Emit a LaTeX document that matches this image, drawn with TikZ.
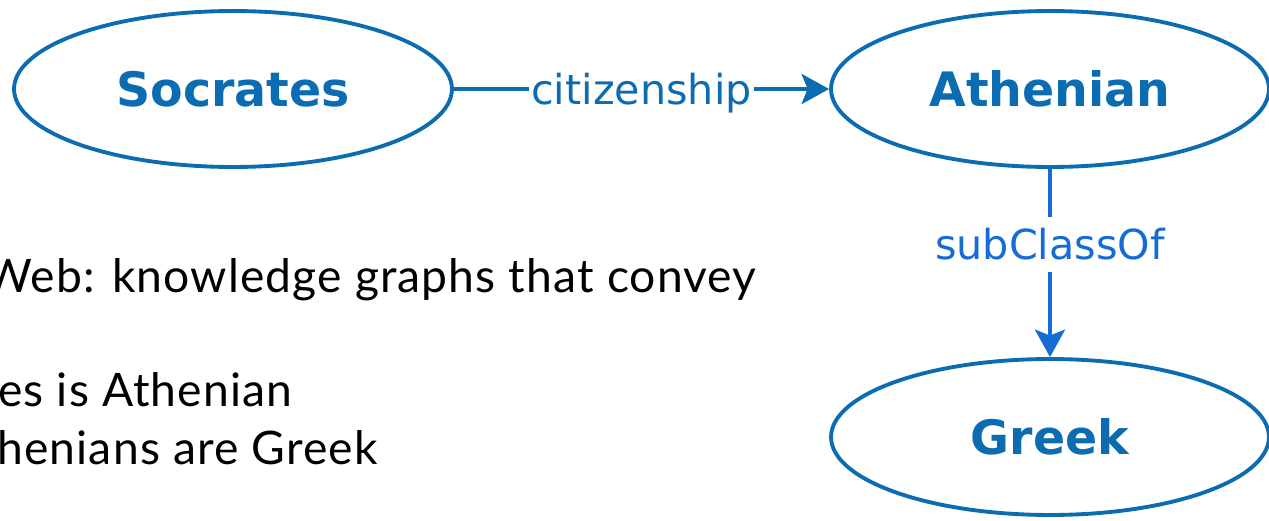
\documentclass[tikz,border=0pt]{standalone}
\usepackage{fontspec}
\setmainfont{Lato}[LetterSpace=2.5]
\newfontfamily\djv{DejaVu Sans}
\usetikzlibrary{shapes.geometric}
\usetikzlibrary{arrows.meta}
\definecolor{nodeblue}{RGB}{12,108,178}
\definecolor{subblue}{RGB}{20,108,212}

\begin{document}
\begin{tikzpicture}[x=0.02cm, y=-0.02cm,
        concept/.style={ellipse, draw=nodeblue, line width=2.2pt, text=nodeblue,
            minimum width=8.76cm, minimum height=3.12cm, inner sep=0pt,
            font=\djv\bfseries\fontsize{27}{27}\selectfont},
        rel/.style={line width=2.2pt, -{Stealth[length=0.55cm, width=0.6cm, inset=0.12cm]}},
        rellabel/.style={fill=white, inner ysep=0.24cm, inner xsep=0.05cm,
            text height=0.62cm, text depth=0pt,
            font=\djv\fontsize{23.5}{23.5}\selectfont},
        slide/.style={inner sep=0pt, font=\fontsize{26.3}{26.3}\selectfont}]
        \useasboundingbox (0,0) rectangle (1269,521);
        \clip (0,0) rectangle (1269,521);
        % the three concepts
        \node[concept] (socrates) at (233,89) {Socrates};
        \node[concept] (athenian) at (1050,89) {Athenian};
        \node[concept] (greek) at (1050,437) {Greek};
        % relations
        \draw[rel, nodeblue] (socrates) -- node[rellabel, text=nodeblue] {citizenship} (athenian);
        \draw[rel, subblue] (athenian) -- node[rellabel, text=subblue, pos=0.4] {subClassOf} (greek);
        % slide text
        \node[slide, anchor=base east] (line1) at (757,292) {Web: knowledge graphs that convey};
        \node[slide, anchor=base west] (line2) at (-2,406) {es is Athenian};
        \node[slide, anchor=base west] (line3) at (-3,464) {henians are Greek};
    \end{tikzpicture}
\end{document}
